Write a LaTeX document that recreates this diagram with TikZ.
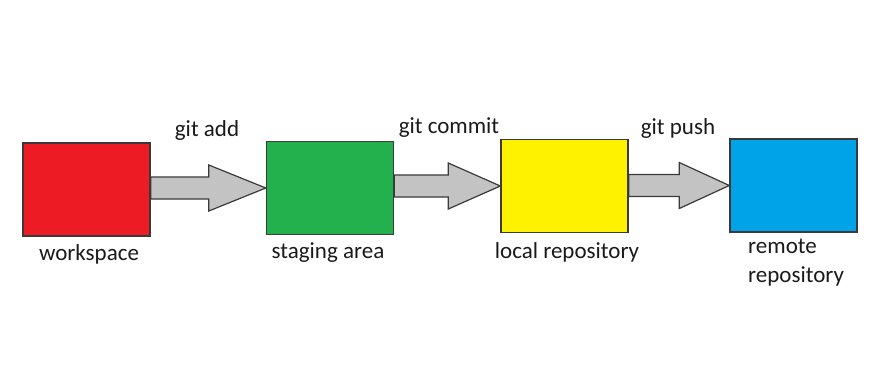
\documentclass[tikz,border=0pt]{standalone}
\usepackage{fontspec}
\setmainfont{Carlito}
\usetikzlibrary{calc}
\definecolor{cred}{HTML}{ED1C24}
\definecolor{cgreen}{HTML}{22B14C}
\definecolor{cyellow}{HTML}{FFF200}
\definecolor{cblue}{HTML}{00A2E8}
\definecolor{cgray}{HTML}{C3C3C3}
\definecolor{cedge}{HTML}{3A3A3A}
\definecolor{ctext}{HTML}{1A1A1A}
\tikzset{
  box/.style={draw=cedge, line width=1.4pt, minimum width=127pt, minimum height=93pt, inner sep=0pt},
  lbl/.style={text=ctext, font=\fontsize{23}{30}\selectfont, inner sep=0pt},
  fat/.style={draw=cedge, fill=cgray, line width=1.2pt, line join=miter}
}
\newcommand{\fatarrow}[3]{%
  \filldraw[fat] let \p1=(#1.east), \p2=(#2.west) in
    (\x1,\y2+11pt) -- (\x2-#3,\y2+11pt) -- (\x2-#3,\y2+23pt) -- (\x2,\y2)
    -- (\x2-#3,\y2-23pt) -- (\x2-#3,\y2-11pt) -- (\x1,\y2-11pt) -- cycle;}
\begin{document}
\begin{tikzpicture}[x=1pt,y=-1pt]
\useasboundingbox (0,0) rectangle (880,391);
\node[box, fill=cred]    (ws) at (86.5,189.5) {};
\node[box, fill=cgreen]  (st) at (330,188) {};
\node[box, fill=cyellow] (lr) at (564.5,186) {};
\node[box, fill=cblue]   (rr) at (793.5,185.5) {};
\fatarrow{ws}{st}{57pt}
\fatarrow{st}{lr}{52pt}
\fatarrow{lr}{rr}{50pt}
\node[lbl] (l1) at (207,130) {git add};
\node[lbl] (l2) at (449,128) {git commit};
\node[lbl] (l3) at (678,128) {git push};
\node[lbl] (t1) at (89,254) {workspace};
\node[lbl] (t2) at (328,253) {staging area};
\node[lbl] (t3) at (567,252) {local repository};
\node[lbl, anchor=west] (t4a) at (748,246) {remote};
\node[lbl, anchor=west] (t4b) at (748,276) {repository};
\end{tikzpicture}
\end{document}
